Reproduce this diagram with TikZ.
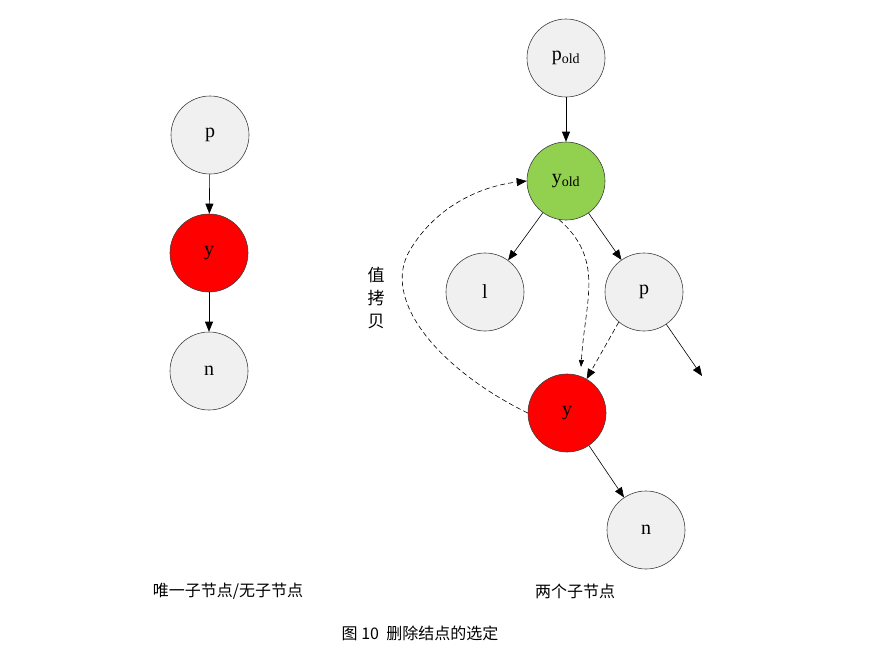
\documentclass[tikz,border=0pt]{standalone}
\usepackage{fontspec}
\newfontfamily\cjk{Noto Sans CJK SC}
\setmainfont{Liberation Serif}
\usetikzlibrary{arrows.meta}
\begin{document}
\begin{tikzpicture}[x=1pt,y=-1pt,
  nd/.style={circle,draw=black!75,line width=0.6pt,fill=black!6,minimum size=78pt,inner sep=0pt,font=\fontsize{20}{20}\selectfont},
  ar/.style={-{Triangle[length=10pt,width=8pt]},line width=0.6pt},
  da/.style={ar,dashed,dash pattern=on 5pt off 3pt},
  captxt/.style={font=\cjk\fontsize{16}{16}\selectfont}]
\useasboundingbox (0,0) rectangle (871,653);
\node[nd] (p1) at (210,135) {p};
\node[nd,fill=red] (y1) at (209,253) {y};
\node[nd] (n1) at (209,371) {n};
\draw[ar] (p1) -- (y1);
\draw[ar] (y1) -- (n1);
\node[nd] (po) at (566,58) {p\textsubscript{old}};
\node[nd,fill={rgb,255:red,146;green,208;blue,80}] (yo) at (566,181) {y\textsubscript{old}};
\node[nd] (l) at (485,292) {l};
\node[nd] (p2) at (644,292) {p};
\node[nd,fill=red] (y2) at (567,413) {y};
\node[nd] (n2) at (646,530) {n};
\coordinate (e) at (702,376);
\draw[ar] (po) -- (yo);
\draw[ar] (yo) -- (l);
\draw[ar] (yo) -- (p2);
\draw[ar] (y2) -- (n2);
\draw[ar] (p2) -- (e);
\draw[da,-{Triangle[length=7pt,width=5pt]}] (yo.-100) .. controls (605,260) and (585,300) .. (581,367);
\draw[da] (p2.-130) -- (y2.60);
\draw[da] (y2.west) .. controls (440,370) and (380,300) .. (410,250) .. controls (440,200) and (490,185) .. (yo.west);
\node[align=center,inner sep=0pt,font=\cjk\fontsize{17}{23}\selectfont] (t) at (376,298) {值\\拷\\贝};
\node[captxt] (c1) at (228,591) {唯一子节点/无子节点};
\node[captxt] (c2) at (575,591) {两个子节点};
\node[captxt] (c3) at (420,633) {图 10\ \ 删除结点的选定};
\end{tikzpicture}
\end{document}
